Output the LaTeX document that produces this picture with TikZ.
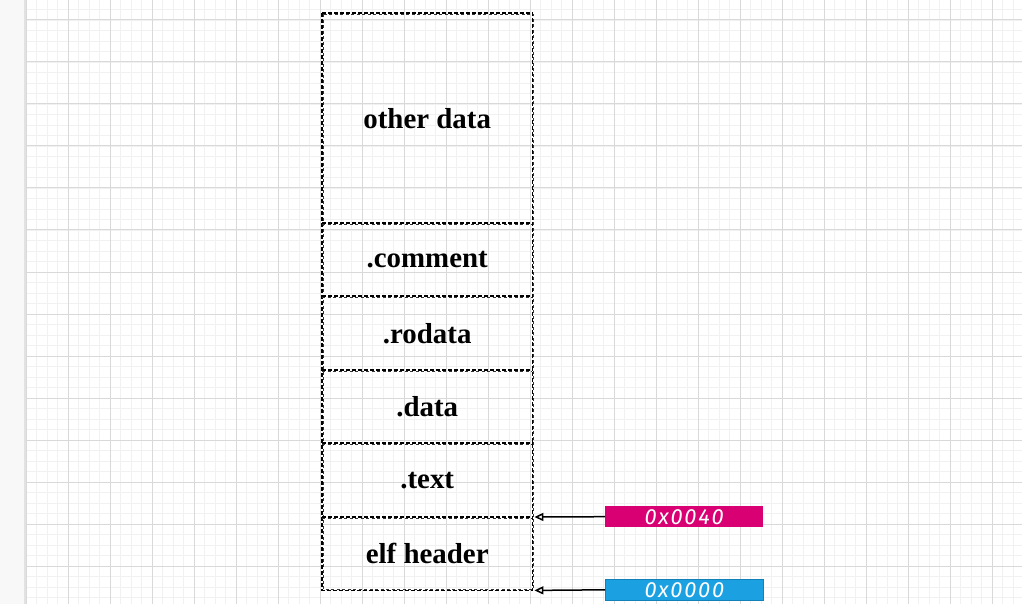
\documentclass[tikz,border=0pt]{standalone}
\usepackage{fontspec}
\setmainfont{Liberation Serif}
\newfontfamily\handfont[LetterSpace=8]{Fira Sans}
\usetikzlibrary{arrows.meta}
\definecolor{minorgrid}{HTML}{F1F1F1}
\definecolor{majorgrid}{HTML}{D9D9D9}
\definecolor{sidebar}{HTML}{F8F8F8}
\definecolor{sideedge}{HTML}{E2E2E2}
\definecolor{pinkfill}{HTML}{D80073}
\definecolor{bluefill}{HTML}{1BA1E2}
\definecolor{blueedge}{HTML}{1480B8}
\begin{document}
\begin{tikzpicture}[x=1bp,y=-1bp,
  seg/.style={minimum width=210bp, inner sep=0pt,
    anchor=north west, font=\bfseries\fontsize{29}{31}\selectfont},
  outline/.style={draw=black, dashed, dash pattern=on 4bp off 2bp, line width=1.5bp},
  sketch/.style={draw=black!80, dashed, dash pattern=on 3bp off 2.5bp, line width=1bp},
  addr/.style={anchor=north west, minimum width=158bp, minimum height=21bp, inner sep=0pt,
    text=white, font=\handfont\itshape\fontsize{22}{24}\selectfont},
  ptr/.style={draw=black, line width=1.5bp, -{Triangle[open,length=9bp,width=8bp]}},
  minorline/.style={draw=minorgrid, line width=0.8bp},
  majorline/.style={draw=majorgrid, line width=1bp}]
\useasboundingbox (0,0) rectangle (1022,604);
\fill[white] (0,0) rectangle (1022,604);
% grid
\foreach \i in {0,...,95} {\draw[minorline] ({26+10.5*\i},0) -- ({26+10.5*\i},604);}
\foreach \j in {-1,...,56} {\draw[minorline] (26,{20+10.5*\j}) -- (1022,{20+10.5*\j});}
\foreach \i in {0,...,23} {\draw[majorline] ({26+42*\i},0) -- ({26+42*\i},604);}
\foreach \j in {0,...,14} {\draw[majorline] (26,{20+42*\j}) -- (1022,{20+42*\j});}
% side bar
\fill[sidebar] (0,0) rectangle (25,604);
\draw[sideedge, line width=2bp] (25,0) -- (25,604);
% segments
\node[seg, minimum height=210bp] (other) at (322,13) {other data};
\node[seg, minimum height=73bp] (comment) at (322,223) {.comment};
\node[seg, minimum height=74bp] (rodata) at (322,296) {.rodata};
\node[seg, minimum height=73bp] (data) at (322,370) {.data};
\node[seg, minimum height=74bp] (text) at (322,443) {.text};
\node[seg, minimum height=73bp] (elf) at (322,517) {elf header};
\draw[outline] (other.north west) rectangle (elf.south east);
\draw[sketch] ([shift={(1.2,1.2)}]other.north west) rectangle ([shift={(1.2,-1)}]elf.south east);
\foreach \s in {comment,rodata,data,text,elf} {
  \draw[outline] (\s.north west) -- (\s.north east);
  \draw[sketch] ([shift={(0,1.3)}]\s.north west) -- ([shift={(0,1.3)}]\s.north east);
}
% address labels
\node[addr, fill=pinkfill] (a40) at (605,506) {0x0040};
\node[addr, fill=bluefill, draw=blueedge, line width=0.6bp] (a00) at (605,579) {0x0000};
\coordinate (pA) at ([xshift=2bp]elf.north east);
\coordinate (pB) at ([xshift=2bp]elf.south east);
\draw[ptr] (a40.west) -- (pA);
\draw[ptr] (a00.west) -- (pB);
\end{tikzpicture}
\end{document}
